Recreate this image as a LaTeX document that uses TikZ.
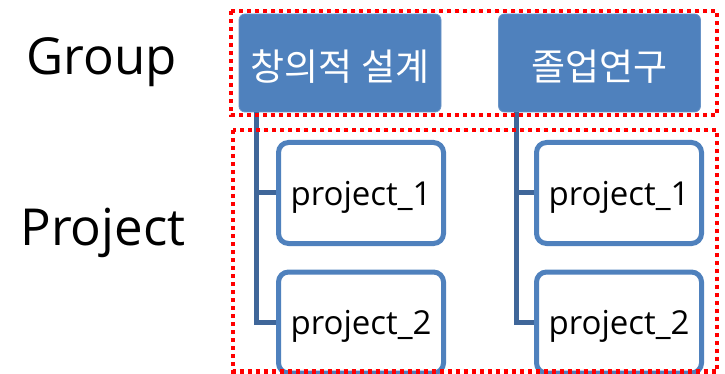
\documentclass[tikz,border=0pt]{standalone}
\usepackage{fontspec}
\setmainfont{Open Sans}
\newfontfamily\krfont{Noto Sans CJK KR}
\definecolor{boxblue}{HTML}{4F81BD}
\definecolor{connblue}{HTML}{3F6699}
\definecolor{dotred}{HTML}{FF0000}
\begin{document}
\begin{tikzpicture}[x=1pt,y=-1pt,
  groupbox/.style={draw=boxblue!85!white, line width=0.8pt, fill=boxblue, rounded corners=6pt,
    minimum width=202pt, minimum height=98pt, inner sep=0pt, text=white,
    text height=40pt, text depth=4pt,
    font=\krfont\fontsize{37}{44}\selectfont},
  projbox/.style={draw=boxblue, line width=5pt, fill=white, rounded corners=10pt,
    minimum width=165pt, minimum height=101pt, inner sep=0pt, text=black,
    text height=30pt, text depth=6pt,
    font=\fontsize{33}{40}\selectfont},
  conn/.style={draw=connblue, line width=5pt},
  frame/.style={draw=dotred, line width=4.5pt, dash pattern=on 4pt off 4pt},
  label/.style={anchor=base, font=\fontsize{51}{60}\selectfont, text=black}]
\useasboundingbox (0,0) rectangle (725,374);
\clip (0,0) rectangle (725,374);

\node[label] (lgroup) at (101.5,75) {Group};
\node[label] (lproj) at (103,245) {Project};

\node[groupbox] (g1) at (340,63) {창의적 설계};
\node[groupbox] (g2) at (599.5,63) {졸업연구};

\coordinate (c1) at ([xshift=18pt]g1.south west);
\coordinate (c2) at ([xshift=18pt]g2.south west);

\node[projbox] (p11) at (361,193) {project\_1};
\node[projbox] (p12) at (361,322.5) {project\_2};
\node[projbox] (p21) at (619,193) {project\_1};
\node[projbox] (p22) at (619,322.5) {project\_2};

\draw[conn] (c1) |- (p12.west);
\draw[conn] (p11.west) -- (p11.west -| c1);
\draw[conn] (c2) |- (p22.west);
\draw[conn] (p21.west) -- (p21.west -| c2);

\draw[frame] (231,11) rectangle (717,115);
\draw[frame] (233,130) rectangle (717,371.5);
\end{tikzpicture}
\end{document}
